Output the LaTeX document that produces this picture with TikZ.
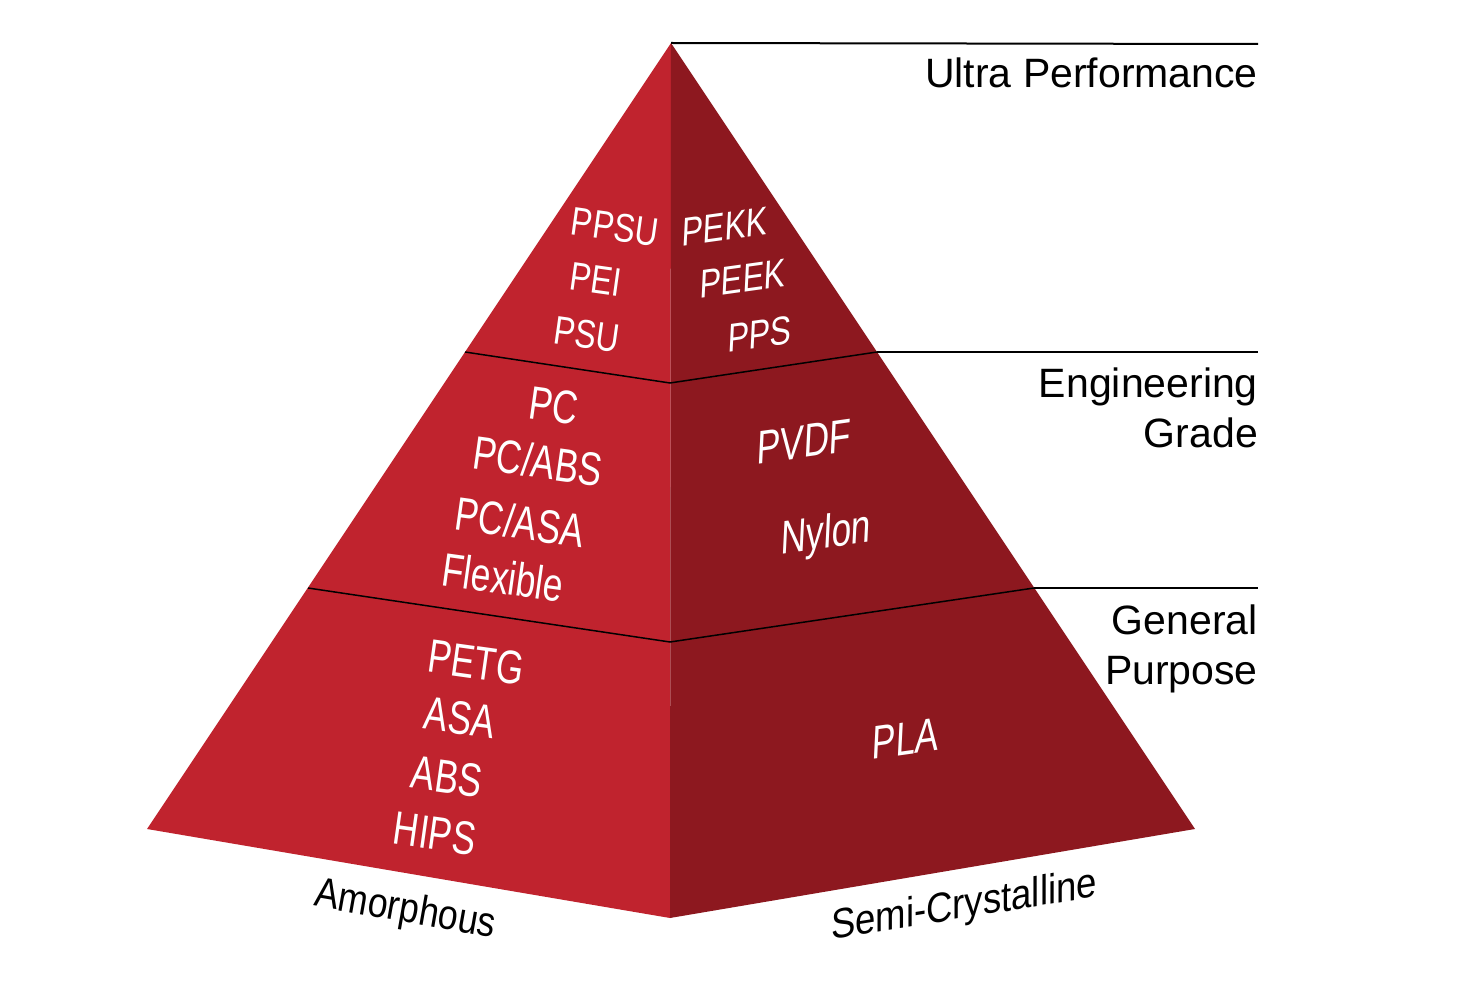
\documentclass[tikz,border=0pt]{standalone}
\usepackage{fontspec}
\setmainfont{Liberation Sans}
\definecolor{leftred}{RGB}{192,35,46}
\definecolor{rightred}{RGB}{141,24,31}
\tikzset{
  facel/.style={fill=leftred, draw=none},
  facer/.style={fill=rightred, draw=none},
  tierline/.style={draw=black, line width=1.5pt},
  levelline/.style={draw=black, line width=2pt},
  ltxt/.style={text=white, inner sep=0pt, text depth=0pt, rotate=-8},
  rtxt/.style={text=white, inner sep=0pt, text depth=0pt, yslant=0.14, xslant=0.05},
  topsize/.style={font=\fontsize{40}{44}\selectfont, text height=28.6pt, xscale=0.8},
  bigsize/.style={font=\fontsize{47}{50}\selectfont, text height=33.6pt, xscale=0.75},
  levellabel/.style={font=\fontsize{41}{45}\selectfont, text=black, inner sep=0pt, anchor=base east},
  baselabel/.style={font=\fontsize{42}{46}\selectfont, text=black, inner sep=0pt, text height=30pt, text depth=0pt}
}
\begin{document}
\begin{tikzpicture}[x=1pt,y=-1pt]
\useasboundingbox (0,0) rectangle (1462,1000);
% pyramid corners
\coordinate (apex) at (671,43);
\coordinate (bl) at (147,829);
\coordinate (bf) at (670,918);
\coordinate (br) at (1195,829);
\coordinate (l1) at (465,352);
\coordinate (m1) at (670,383);
\coordinate (r1) at (877,352);
\coordinate (l2) at (308,588);
\coordinate (m2) at (670,642);
\coordinate (r2) at (1034,588);
\coordinate (e0) at (1258,44);
\coordinate (e1) at (1258,352);
\coordinate (e2) at (1258,588);
% faces
\fill[facel] (apex) -- (bl) -- (bf) -- cycle;
\fill[facer] (apex) -- (bf) -- (br) -- cycle;
% tier lines
\draw[tierline] (l1) -- (m1) -- (r1);
\draw[tierline] (l2) -- (m2) -- (r2);
% level lines
\draw[levelline] (apex) -- (e0);
\draw[levelline] (r1) -- (e1);
\draw[levelline] (r2) -- (e2);
% level labels
\node[levellabel] (ultra) at (1258,88) {Ultra Performance};
\node[levellabel] (eng) at (1258,397) {Engineering};
\node[levellabel] (grade) at (1258,447) {Grade};
\node[levellabel] (gen) at (1258,634) {General};
\node[levellabel] (purp) at (1258,684) {Purpose};
% top tier
\node[ltxt,topsize] (ppsu) at (615,226) {PPSU};
\node[ltxt,topsize] (pei) at (596,279) {PEI};
\node[ltxt,topsize] (psu) at (587,334) {PSU};
\node[rtxt,topsize] (pekk) at (725,226) {PEKK};
\node[rtxt,topsize] (peek) at (743,278) {PEEK};
\node[rtxt,topsize] (pps) at (760,334) {PPS};
% middle tier
\node[ltxt,bigsize] (pc) at (554,405) {PC};
\node[ltxt,bigsize] (pcabs) at (538,461) {PC/ABS};
\node[ltxt,bigsize] (pcasa) at (520,522) {PC/ASA};
\node[ltxt,bigsize] (flex) at (503,577) {Flexible};
\node[rtxt,bigsize] (pvdf) at (804,441) {PVDF};
\node[rtxt,bigsize] (nylon) at (826,531) {Nylon};
% bottom tier
\node[ltxt,bigsize] (petg) at (476,662) {PETG};
\node[ltxt,bigsize] (asa) at (460,717) {ASA};
\node[ltxt,bigsize] (abs) at (447,776) {ABS};
\node[ltxt,bigsize] (hips) at (435,833) {HIPS};
\node[rtxt,bigsize] (pla) at (906,738) {PLA};
% base labels
\node[baselabel, rotate=-10, xscale=0.85] (amorph) at (406,907) {Amorphous};
\node[baselabel, yslant=0.16, xscale=0.87] (semi) at (964,903) {Semi-Crystalline};
\end{tikzpicture}
\end{document}
